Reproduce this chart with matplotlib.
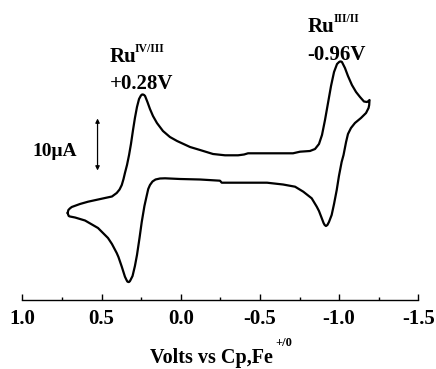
import matplotlib
matplotlib.use("Agg")
import matplotlib.pyplot as plt
from matplotlib.ticker import MultipleLocator

plt.rcParams['font.family'] = ['Liberation Serif', 'DejaVu Serif']
plt.rcParams['font.weight'] = 'bold'
plt.rcParams['axes.unicode_minus'] = False

# Potential (V vs Cp2Fe+/0) and current (uA, arbitrary offset) of the closed CV loop
upper_v = [0.714, 0.709, 0.700, 0.688, 0.636, 0.585, 0.478, 0.434, 0.404, 0.386, 0.372, 0.361,
           0.352, 0.339, 0.326, 0.314, 0.301, 0.289, 0.276, 0.263, 0.251, 0.244, 0.238,
           0.231, 0.225, 0.210, 0.194, 0.175, 0.150, 0.112, 0.068, 0.023, -0.059, -0.122,
           -0.204, -0.280, -0.362, -0.400, -0.425, -0.564, -0.709, -0.753, -0.816, -0.848,
           -0.873, -0.892, -0.911, -0.930, -0.949, -0.968, -0.987, -1.000, -1.006, -1.012,
           -1.018, -1.037, -1.056, -1.081, -1.107, -1.132, -1.157, -1.176, -1.186, -1.192]
upper_i = [-2.6, -2.0, -1.7, -1.4, -0.8, -0.34, 0.4, 0.7, 1.4, 2.1, 3.0, 4.2,
           5.4, 7.0, 9.0, 11.2, 14.0, 16.4, 18.6, 20.2, 20.9, 21.1, 21.1,
           21.0, 20.8, 19.6, 18.2, 16.8, 15.4, 13.8, 12.6, 11.8, 10.6, 10.0,
           9.2, 8.94, 8.94, 9.1, 9.34, 9.34, 9.34, 9.66, 9.8, 10.2,
           11.2, 13.0, 16.0, 19.4, 22.8, 25.6, 27.2, 27.6, 27.7, 27.7,
           27.6, 26.4, 24.8, 23.0, 21.6, 20.6, 19.7, 19.6, 19.8, 20.0]
lower_v = [-1.190, -1.186, -1.170, -1.138, -1.100, -1.075, -1.056, -1.044, -1.028, -1.016, -0.999,
           -0.985, -0.968, -0.953, -0.936, -0.926, -0.917, -0.909, -0.902, -0.890, -0.873, -0.859, -0.827,
           -0.774, -0.722, -0.646, -0.545, -0.374, -0.259, -0.248, -0.122, 0.004, 0.099,
           0.131, 0.159, 0.178, 0.194, 0.205, 0.216, 0.229, 0.246, 0.260, 0.276,
           0.289, 0.304, 0.320, 0.326, 0.331, 0.337, 0.342, 0.352, 0.372, 0.393, 0.404, 0.434,
           0.459, 0.522, 0.604, 0.667, 0.699, 0.707, 0.714]
lower_i = [19.0, 18.4, 17.4, 16.4, 15.4, 14.4, 13.2, 11.6, 9.0, 7.6, 4.8,
           2.0, -0.8, -3.0, -4.4, -5.0, -5.2, -5.0, -4.6, -3.6, -2.2, -1.34, 0.34,
           1.66, 2.66, 3.1, 3.46, 3.46, 3.46, 3.86, 4.1, 4.2, 4.34,
           4.3, 4.1, 3.7, 3.0, 2.2, 0.66, -1.2, -4.4, -7.6, -11.0,
           -13.2, -15.2, -16.2, -16.4, -16.4, -16.3, -16.0, -15.34, -13.34, -11.4, -10.6, -8.8,
           -7.6, -5.6, -4.1, -3.5, -3.3, -3.2, -2.6]

x_ticks = [1.0, 0.5, 0.0, -0.5, -1.0, -1.5]
x_tick_labels = ["1.0", "0.5", "0.0", "-0.5", "-1.0", "-1.5"]
x_label = "Volts vs Cp,Fe"
x_label_sup = "+/0"
scale_bar = (5.9, 16.3)   # 10 uA scale arrow
scale_text = "10\u03bcA"

fig = plt.figure(figsize=(4.36, 3.69), dpi=100)
ax = fig.add_axes([22.3 / 436, 1 - 299.5 / 369, (418.3 - 22.3) / 436, (299.5 - 5) / 369])

ax.plot(upper_v + lower_v, upper_i + lower_i, color='black', lw=1.6,
        solid_joinstyle='round', solid_capstyle='round')

ax.set_xlim(1.0, -1.5)
ax.set_ylim(-19.9, 39.0)
for s in ['top', 'left', 'right']:
    ax.spines[s].set_visible(False)
ax.spines['bottom'].set_linewidth(1.0)
ax.set_yticks([])
ax.set_xticks(x_ticks)
ax.set_xticklabels(x_tick_labels)
ax.xaxis.set_minor_locator(MultipleLocator(0.25))
ax.tick_params(axis='x', which='major', direction='in', length=4, width=1.0,
               labelsize=15, pad=7)
ax.tick_params(axis='x', which='minor', direction='in', length=2.5, width=1.0)
for lab in ax.get_xticklabels():
    lab.set_fontweight('bold')

# x-axis title with superscript
fig.text(150 / 436, 1 - 363.3 / 369, x_label, fontsize=14.5, fontweight='bold',
         ha='left', va='baseline')
fig.text(275 / 436, 1 - 336.7 / 369, x_label_sup, fontsize=9, fontweight='bold',
         ha='left', va='top')

# peak annotations
ax.text(0.446, 27.7, "Ru", fontsize=15, fontweight='bold', ha='left', va='baseline')
ax.text(0.2885, 31.4, "IV/III", fontsize=8.5, fontweight='bold', ha='left', va='top')
ax.text(0.446, 22.2, "+0.28V", fontsize=15, fontweight='bold', ha='left', va='baseline')
ax.text(-0.804, 33.66, "Ru", fontsize=15, fontweight='bold', ha='left', va='baseline')
ax.text(-0.968, 37.5, "III/II", fontsize=8.5, fontweight='bold', ha='left', va='top')
ax.text(-0.796, 28.0, "-0.96V", fontsize=15, fontweight='bold', ha='left', va='baseline')

# scale bar
ax.annotate('', xy=(0.525, scale_bar[0]), xytext=(0.525, scale_bar[1]),
            arrowprops=dict(arrowstyle='<|-|>', lw=0.9, color='black',
                            mutation_scale=6, shrinkA=0, shrinkB=0))
ax.text(0.934, 9.66, scale_text, fontsize=14, fontweight='bold', ha='left', va='center')

fig.savefig('out.png', dpi=100)
